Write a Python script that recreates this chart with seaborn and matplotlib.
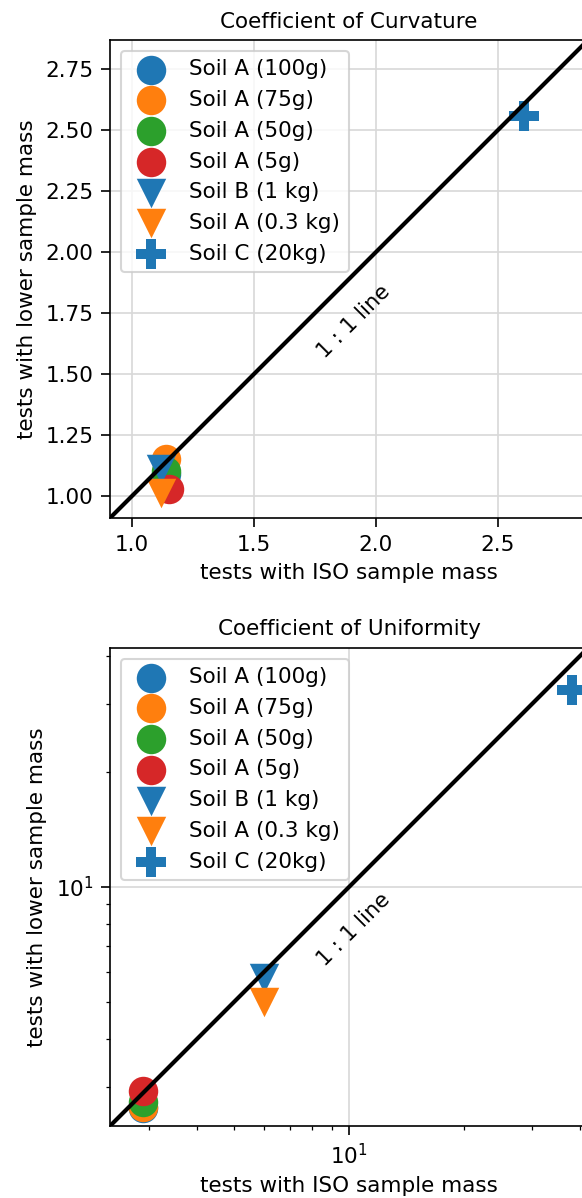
import numpy as np
import seaborn as sns
import matplotlib.pyplot as plt

# DATA
labels = ['Soil A (100g)', 'Soil A (75g)', 'Soil A (50g)', 'Soil A (5g)',
          'Soil B (1 kg)', 'Soil A (0.3 kg)', 'Soil C (20kg)']
markers = ['o', 'o', 'o', 'o', 'v', 'v', 'P']
colors = ['C0', 'C1', 'C2', 'C3', 'C0', 'C1', 'C0']

# coefficient of curvature
cc_iso = [1.14, 1.14, 1.14, 1.15, 1.12, 1.12, 2.61]
cc_low = [1.09, 1.15, 1.10, 1.03, 1.11, 1.01, 2.56]

# coefficient of uniformity
cu_iso = [2.90, 2.90, 2.90, 2.90, 6.0, 6.0, 38.2]
cu_low = [2.64, 2.67, 2.74, 2.93, 5.78, 5.01, 32.7]

plt.rcParams['font.size'] = 10.3

fig = plt.figure(figsize=(582 / 150, 1198 / 150), dpi=150)
ax1 = fig.add_axes([0.189, 0.5676, 0.8213, 0.399])
ax2 = fig.add_axes([0.189, 0.0601, 0.8213, 0.399])


def draw(ax, xs, ys, title):
    for x, y, lab, m, c in zip(xs, ys, labels, markers, colors):
        sns.scatterplot(x=[x], y=[y], marker=m, color=c, s=200, linewidth=0,
                        label=lab, ax=ax, zorder=3)
    lo = min(min(xs), min(ys)) * 0.9
    hi = max(max(xs), max(ys)) * 1.1
    ax.plot([lo, hi], [lo, hi], color='k', lw=2, zorder=4)
    ax.set_xlim(lo, hi)
    ax.set_ylim(lo, hi)
    ax.text(0.51, 0.41, '1 : 1 line', rotation=45, transform=ax.transAxes,
            ha='center', va='center')
    ax.grid(True, color='#d8d8d8')
    ax.set_axisbelow(True)
    ax.tick_params(length=4.5)
    ax.set_title(title, fontsize=10.3)
    ax.set_xlabel('tests with ISO sample mass')
    ax.set_ylabel('tests with lower sample mass')
    ax.legend(loc='upper left')


draw(ax1, cc_iso, cc_low, 'Coefficient of Curvature')

ax2.set_xscale('log')
ax2.set_yscale('log')
draw(ax2, cu_iso, cu_low, 'Coefficient of Uniformity')

fig.savefig('out.png', dpi=150)
